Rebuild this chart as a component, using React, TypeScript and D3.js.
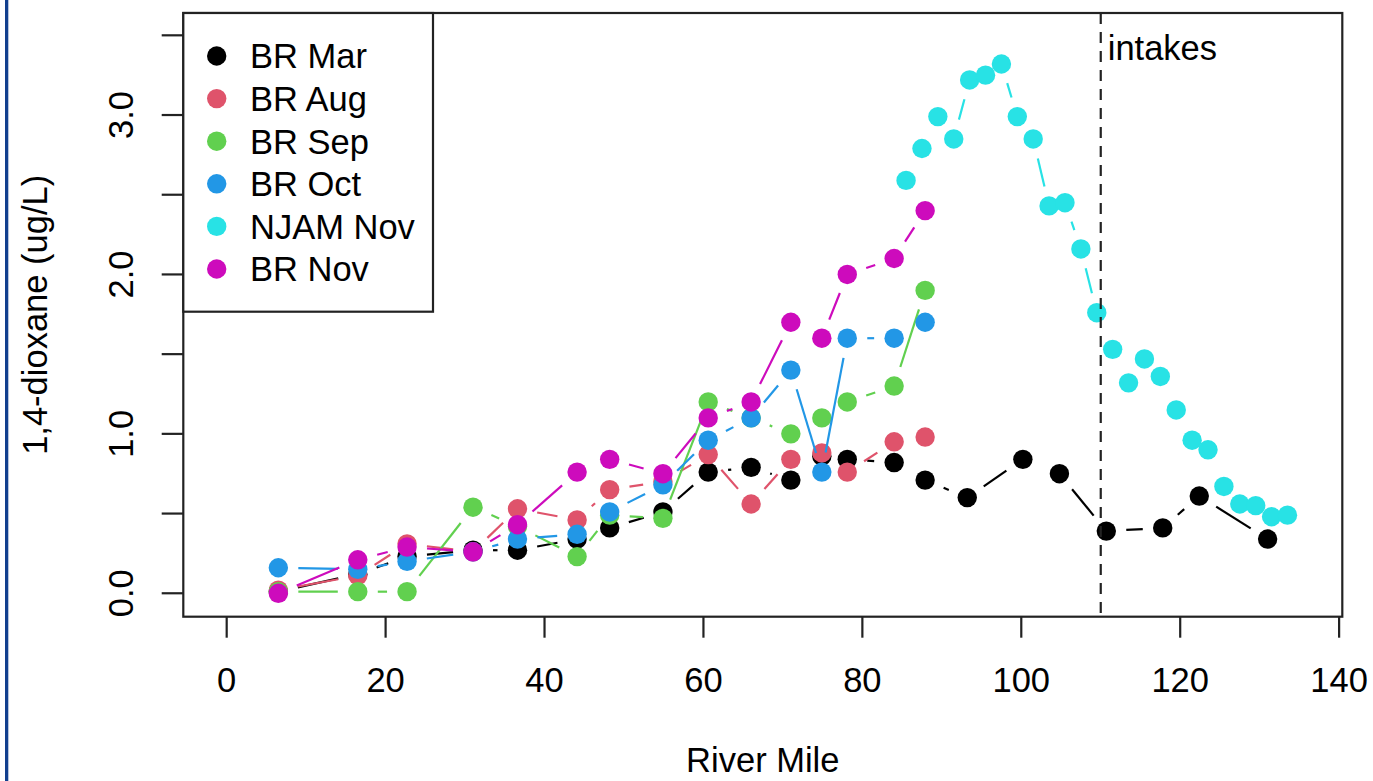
import * as d3 from 'd3';

// R-style base plot: 1,4-dioxane along the river, type = "b" with gaps around points

const W = 1373;
const H = 781;
const FONT = '"Liberation Sans", Arial, Helvetica, sans-serif';
const FS = 34.5;

// river miles sampled
const milesMar = [6.5, 16.5, 22.7, 31.0, 36.6, 44.1, 48.2, 54.9, 60.6, 66.0, 71.0, 74.9, 78.1, 84.0, 87.9, 93.2, 100.2, 104.8, 110.7, 117.8, 122.4, 131.0];
const milesBR = [6.5, 16.5, 22.7, 31.0, 36.6, 44.1, 48.2, 54.9, 60.6, 66.0, 71.0, 74.9, 78.1, 84.0, 87.9];
const milesNJAM = [85.5, 87.5, 89.5, 91.5, 93.5, 95.5, 97.5, 99.5, 101.5, 103.5, 105.5, 107.5, 109.5, 111.5, 113.5, 115.5, 117.5, 119.5, 121.5, 123.5, 125.5, 127.5, 129.5, 131.5, 133.5];

// concentrations (ug/L)
const marValues = [0.01, 0.12, 0.23, 0.27, 0.27, 0.34, 0.41, 0.51, 0.76, 0.79, 0.71, 0.86, 0.84, 0.82, 0.71, 0.60, 0.84, 0.75, 0.39, 0.41, 0.61, 0.34];
const augValues = [0.02, 0.11, 0.31, 0.26, 0.53, 0.46, 0.65, 0.70, 0.87, 0.56, 0.84, 0.88, 0.76, 0.95, 0.98];
const sepValues = [0.01, 0.01, 0.01, 0.54, 0.42, 0.23, 0.49, 0.47, 1.20, 1.10, 1.00, 1.10, 1.20, 1.30, 1.90];
const octValues = [0.16, 0.15, 0.20, 0.26, 0.34, 0.37, 0.51, 0.68, 0.96, 1.10, 1.40, 0.76, 1.60, 1.60, 1.70];
const njamValues = [2.59, 2.79, 2.99, 2.85, 3.22, 3.25, 3.32, 2.99, 2.85, 2.43, 2.45, 2.16, 1.76, 1.53, 1.32, 1.47, 1.36, 1.15, 0.96, 0.90, 0.67, 0.56, 0.55, 0.48, 0.49];
const novValues = [0.00, 0.21, 0.29, 0.26, 0.43, 0.76, 0.84, 0.75, 1.10, 1.20, 1.70, 1.60, 2.00, 2.10, 2.40];

const seriesNames = ['BR Mar', 'BR Aug', 'BR Sep', 'BR Oct', 'NJAM Nov', 'BR Nov'];
const seriesColors = ['#000000', '#DF536B', '#61D04F', '#2297E6', '#28E2E5', '#CD0BBC'];
const seriesMiles = [milesMar, milesBR, milesBR, milesBR, milesNJAM, milesBR];
const seriesValues = [marValues, augValues, sepValues, octValues, njamValues, novValues];

const xTicks = [0, 20, 40, 60, 80, 100, 120, 140];
const yTicks = [0, 0.5, 1, 1.5, 2, 2.5, 3, 3.5];
const yLabelTicks = [0, 1, 2, 3];
const intakeMile = 110;

// plot region
const left = 183.3;
const right = 1342.3;
const top = 13;
const bottom = 616.7;

const x = d3.scaleLinear().domain([-5.46, 140.4]).range([left, right]);
const y = d3.scaleLinear().domain([-0.147, 3.64]).range([bottom, top]);

const R = 9.7; // pch 19
const GAP = 20; // type="b" gap
const LW = 2.2;

function gappedSegments(pts: [number, number][]) {
  const out: [number, number, number, number][] = [];
  for (let i = 0; i < pts.length - 1; i++) {
    const [x0, y0] = pts[i];
    const [x1, y1] = pts[i + 1];
    const dx = x1 - x0;
    const dy = y1 - y0;
    const d = Math.sqrt(dx * dx + dy * dy);
    if (d <= 2 * GAP) continue;
    const f = GAP / d;
    out.push([x0 + f * dx, y0 + f * dy, x1 - f * dx, y1 - f * dy]);
  }
  return out;
}

export default function App() {
  const legendX = 216.7;
  const legendY0 = 56;
  const legendStep = 42.6;

  return (
    <div style={{ position: 'absolute', left: 0, top: 0 }}>
      <svg width={W} height={H} style={{ display: 'block', background: '#fff' }} fontFamily={FONT}>
        <rect x={0} y={0} width={W} height={H} fill="#fff" />
        {/* slide border */}
        <rect x={5} y={0} width={3.3} height={H} fill="#123f8e" />

        {/* series */}
        {seriesNames.map((name, si) => {
          const pts: [number, number][] = seriesMiles[si].map((m, i) => [x(m), y(seriesValues[si][i])]);
          return (
            <g key={name}>
              {gappedSegments(pts).map((s, i) => (
                <line key={i} x1={s[0]} y1={s[1]} x2={s[2]} y2={s[3]} stroke={seriesColors[si]} strokeWidth={LW} />
              ))}
              {pts.map((p, i) => (
                <circle key={i} cx={p[0]} cy={p[1]} r={R} fill={seriesColors[si]} />
              ))}
            </g>
          );
        })}

        {/* intake line */}
        <line x1={x(intakeMile)} x2={x(intakeMile)} y1={top} y2={bottom} stroke="#222" strokeWidth={2.2} strokeDasharray="11,8" />
        <text x={x(intakeMile) + 7} y={60} fontSize={FS} fill="#000">intakes</text>

        {/* box */}
        <rect x={left} y={top} width={right - left} height={bottom - top} fill="none" stroke="#222" strokeWidth={2.2} />

        {/* x axis */}
        {xTicks.map((t) => (
          <g key={t}>
            <line x1={x(t)} x2={x(t)} y1={bottom} y2={bottom + 21} stroke="#222" strokeWidth={2.2} />
            <text x={x(t)} y={692} textAnchor="middle" fontSize={FS} fill="#000">{t}</text>
          </g>
        ))}
        <text x={(left + right) / 2} y={772} textAnchor="middle" fontSize={FS} fill="#000">River Mile</text>

        {/* y axis */}
        {yTicks.map((t) => (
          <line key={t} x1={left - 21.6} x2={left} y1={y(t)} y2={y(t)} stroke="#222" strokeWidth={2.2} />
        ))}
        {yLabelTicks.map((t) => (
          <text key={t} x={133} y={y(t)} transform={`rotate(-90, 133, ${y(t)})`} textAnchor="middle" fontSize={FS} fill="#000">
            {d3.format('.1f')(t)}
          </text>
        ))}
        <text x={47} y={(top + bottom) / 2} transform={`rotate(-90, 47, ${(top + bottom) / 2})`} textAnchor="middle" fontSize={FS} fill="#000">
          1,4-dioxane (ug/L)
        </text>

        {/* legend */}
        <rect x={left} y={top} width={433 - left} height={311.7 - top} fill="#fff" stroke="#222" strokeWidth={2.2} />
        {seriesNames.map((name, i) => (
          <g key={name}>
            <circle cx={legendX} cy={legendY0 + i * legendStep} r={R} fill={seriesColors[i]} />
            <text x={250} y={legendY0 + i * legendStep + 12.3} fontSize={FS} fill="#000">{name}</text>
          </g>
        ))}
      </svg>
    </div>
  );
}
